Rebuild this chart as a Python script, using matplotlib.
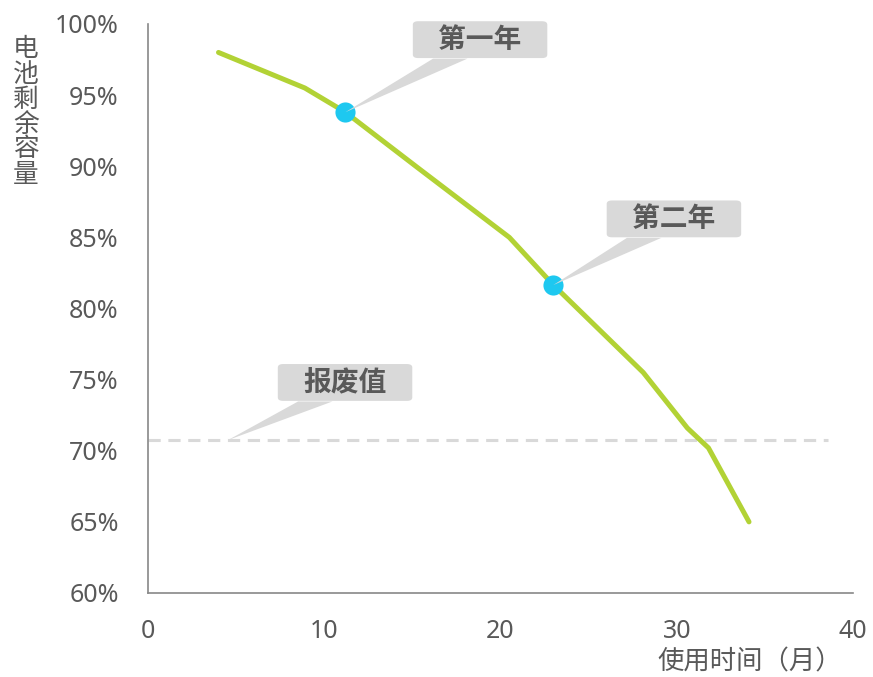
import matplotlib
matplotlib.use("Agg")
import matplotlib.pyplot as plt
from matplotlib.patches import FancyBboxPatch, Polygon

plt.rcParams['font.family'] = ['Noto Sans CJK SC', 'DejaVu Sans']

# Data
months = [4, 8.9, 11.2, 15.3, 20.5, 23.0, 28.1, 30.6, 31.8, 34.1]
capacity = [98.0, 95.5, 93.8, 89.9, 85.0, 81.65, 75.5, 71.6, 70.2, 65.0]
marked_months = [11.2, 23.0]
marked_capacity = [93.8, 81.65]
marked_labels = ["第一年", "第二年"]
scrap_value = 70.75
scrap_label = "报废值"
x_ticks = [0, 10, 20, 30, 40]
y_ticks = [60, 65, 70, 75, 80, 85, 90, 95, 100]

text_color = "#595959"
box_color = "#d9d9d9"

fig = plt.figure(figsize=(8.73, 6.77), dpi=100)
ax = fig.add_axes([148 / 873, 1 - 593 / 677, (853 - 148) / 873, (593 - 24) / 677])

ax.axhline(scrap_value, xmin=0, xmax=38.6 / 40, color=box_color, lw=2.2,
           dashes=(4, 2.5), zorder=1)
ax.plot(months, capacity, color="#b2d235", lw=3.6, solid_capstyle="round",
        solid_joinstyle="round", zorder=2)
ax.plot(marked_months, marked_capacity, "o", color="#1ec8f0", ms=14.5,
        mec="none", zorder=3)

# Callouts: box center, tip point
def callout(text, cx, cy, tip):
    w, h = 7.83, 2.67
    left, bottom = cx - w / 2, cy - h / 2
    box = FancyBboxPatch((left + 0.3, bottom + 0.2), w - 0.6, h - 0.4,
                         boxstyle="round,pad=0.2,rounding_size=0.3",
                         mutation_aspect=0.8, fc=box_color, ec="none",
                         zorder=4, clip_on=False)
    ax.add_patch(box)
    wedge = Polygon([(left + 1.25, bottom), (left + 3.2, bottom), tip],
                    closed=True, fc=box_color, ec="none", zorder=3.5,
                    clip_on=False)
    ax.add_patch(wedge)
    ax.text(cx, cy, text, ha="center", va="center", fontsize=20,
            fontweight="bold", color=text_color, zorder=5)

callout(marked_labels[0], 18.84, 98.9, (marked_months[0], marked_capacity[0]))
callout(marked_labels[1], 29.84, 86.3, (marked_months[1], marked_capacity[1]))
callout(scrap_label, 11.18, 74.8, (4.54, scrap_value))

ax.set_xlim(0, 40)
ax.set_ylim(60, 100)
ax.set_xticks(x_ticks)
ax.set_yticks(y_ticks)
ax.set_yticklabels([f"{v}%" for v in y_ticks])
ax.tick_params(length=0, labelsize=18, labelcolor=text_color)
ax.tick_params(axis="y", pad=21)
ax.tick_params(axis="x", pad=19)
for lab in ax.get_xticklabels() + ax.get_yticklabels():
    lab.set_family(['Noto Sans', 'DejaVu Sans'])
for s in ["top", "right"]:
    ax.spines[s].set_visible(False)
for s in ["left", "bottom"]:
    ax.spines[s].set_color("#888888")
    ax.spines[s].set_linewidth(1.2)

fig.text(26 / 873, 1 - 112 / 677, "\n".join("电池剩余容量"), ha="center",
         va="center", fontsize=18.5, color=text_color, linespacing=0.95)
fig.text(842 / 873, 1 - 662 / 677, "使用时间（月）", ha="right", va="center",
         fontsize=19, color=text_color)

fig.savefig("out.png", dpi=100)
